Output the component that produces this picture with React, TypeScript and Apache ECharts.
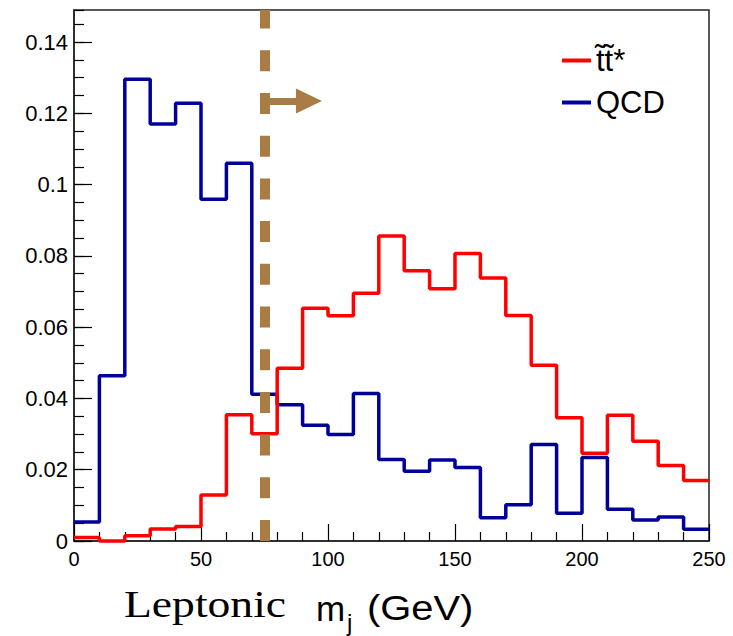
import React, { useEffect, useRef } from "react";
import * as echarts from "echarts";

// Histogram bins (lower edges, GeV) and the upper edge of the last bin
const binLow = [0, 10, 20, 30, 40, 50, 60, 70, 80, 90, 100, 110, 120, 130, 140, 150, 160, 170, 180, 190, 200, 210, 220, 230, 240];
const lastEdge = 250;

// Normalised distributions
const stopPair = [0.001, 0.0, 0.0015, 0.0034, 0.0041, 0.0129, 0.0354, 0.0301, 0.0485, 0.0653, 0.0632, 0.0695, 0.0856, 0.0758, 0.0708, 0.0807, 0.0738, 0.0633, 0.0493, 0.0346, 0.0246, 0.0353, 0.028, 0.0212, 0.017];
const qcd = [0.0053, 0.0464, 0.1296, 0.117, 0.1228, 0.0959, 0.106, 0.0412, 0.0382, 0.0325, 0.0299, 0.0414, 0.0229, 0.0196, 0.0227, 0.0206, 0.0065, 0.0102, 0.0271, 0.0078, 0.0234, 0.0089, 0.0059, 0.0067, 0.0033];

const seriesNames = ["t\u0303t\u0303*", "QCD"];
const cutValue = 75;
const arrowY = 0.1235;
const arrowHeadX = 92.5;
const yMax = 0.149;

const SANS = '"Liberation Sans", Arial, Helvetica, sans-serif';
const SERIF = '"Liberation Serif", "Times New Roman", serif';

function toSteps(values: number[]) {
  const pts = binLow.map((x, i) => [x, values[i]]);
  pts.push([lastEdge, values[values.length - 1]]);
  return pts;
}

export default function App() {
  const ref = useRef<HTMLDivElement>(null);
  useEffect(() => {
    if (!ref.current) return;
    const chart = echarts.init(ref.current, undefined, { renderer: "svg" });
    const brown = "#a97b45";
    const textBase = { fill: "#000", textAlign: "left", textVerticalAlign: "middle", align: "left", verticalAlign: "middle" };
    const option: any = {
      animation: false,
      backgroundColor: "#ffffff",
      grid: {
        left: 74,
        right: 24,
        top: 10,
        bottom: 95,
        show: true,
        borderColor: "#222",
        borderWidth: 1.5,
        containLabel: false,
      },
      legend: {
        data: seriesNames,
        orient: "vertical",
        left: 557,
        top: 40,
        icon: "rect",
        itemWidth: 29,
        itemHeight: 4,
        itemGap: 11,
        textStyle: { fontSize: 31, fontFamily: SANS, color: "#000", lineHeight: 31 },
      },
      xAxis: {
        type: "value",
        min: 0,
        max: lastEdge,
        interval: 50,
        axisLine: { show: true, lineStyle: { color: "#222", width: 1.5 } },
        axisTick: { show: true, inside: true, length: 17, lineStyle: { color: "#000", width: 1.2 } },
        minorTick: { show: true, splitNumber: 5, length: 9, lineStyle: { color: "#000", width: 1.2 } },
        splitLine: { show: false },
        axisLabel: { fontSize: 20, fontFamily: SANS, color: "#000", margin: 8 },
      },
      yAxis: [
        {
          type: "value",
          min: 0,
          max: yMax,
          interval: 0.02,
          position: "left",
          axisLine: { show: true, lineStyle: { color: "#222", width: 1.5 } },
          axisTick: { show: true, inside: true, length: 18, lineStyle: { color: "#000", width: 1.2 } },
          splitLine: { show: false },
          axisLabel: {
            fontSize: 22,
            fontFamily: SANS,
            color: "#000",
            margin: 6,
            showMaxLabel: false,
            formatter: (v: number) => String(+v.toFixed(4)),
          },
        },
        {
          type: "value",
          min: 0,
          max: yMax,
          interval: 0.005,
          position: "left",
          offset: 0,
          axisLine: { show: false },
          axisTick: { show: true, inside: true, length: 10, lineStyle: { color: "#000", width: 1.2 } },
          splitLine: { show: false },
          axisLabel: { show: false },
        },
      ],
      series: [
        {
          name: seriesNames[0],
          type: "line",
          step: "end",
          showSymbol: false,
          symbol: "none",
          clip: false,
          z: 3,
          color: "#ff0000",
          lineStyle: { color: "#ff0000", width: 3.5 },
          data: toSteps(stopPair),
          markLine: {
            silent: true,
            symbol: ["none", "none"],
            label: { show: false },
            z: 5,
            lineStyle: { color: brown, width: 10, type: [21, 21.7], cap: "butt" },
            emphasis: { disabled: true },
            data: [
              [{ coord: [cutValue, 0] }, { coord: [cutValue, yMax] }],
              [
                {
                  coord: [cutValue, arrowY],
                  symbol: "none",
                  lineStyle: { type: "solid", width: 7, color: brown },
                },
                { coord: [arrowHeadX, arrowY], symbol: "triangle", symbolSize: [25, 26] },
              ],
            ],
          },
        },
        {
          name: seriesNames[1],
          type: "line",
          step: "end",
          showSymbol: false,
          symbol: "none",
          clip: false,
          z: 2,
          color: "#000099",
          lineStyle: { color: "#000099", width: 3.5 },
          data: toSteps(qcd),
        },
      ],
      graphic: [
        {
          type: "text",
          x: 124,
          y: 604,
          scaleX: 1.2,
          silent: true,
          style: { ...textBase, text: "Leptonic", fontSize: 38, fontFamily: SERIF },
        },
        {
          type: "text",
          x: 316,
          y: 608,
          silent: true,
          style: { ...textBase, text: "m", fontSize: 35, fontFamily: SANS },
        },
        {
          type: "text",
          x: 347,
          y: 622,
          silent: true,
          style: { ...textBase, text: "j", fontSize: 24, fontFamily: SANS },
        },
        {
          type: "text",
          x: 367,
          y: 608,
          scaleX: 1.14,
          silent: true,
          style: { ...textBase, text: "(GeV)", fontSize: 35, fontFamily: SANS },
        },
      ],
    };
    chart.setOption(option);
    return () => chart.dispose();
  }, []);
  return (
    <div
      ref={ref}
      style={{ position: "fixed", left: 0, top: 0, width: 733, height: 636, background: "#fff" }}
    />
  );
}
